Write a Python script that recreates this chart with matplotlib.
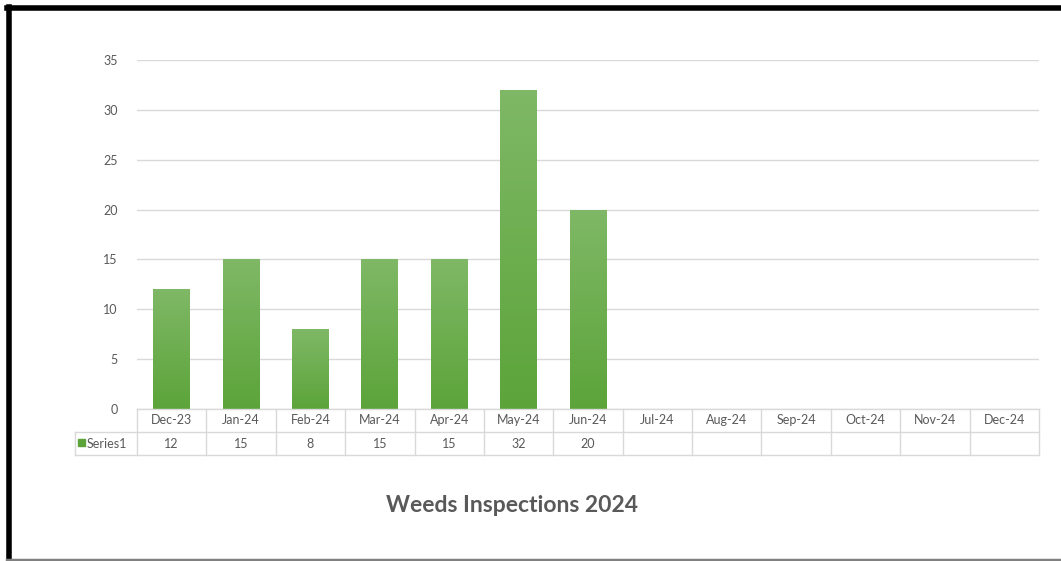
import matplotlib
matplotlib.use("Agg")
import matplotlib.pyplot as plt
import numpy as np
from matplotlib.lines import Line2D
from matplotlib.patches import Rectangle

# Monthly weed inspection counts
months = ["Dec-23", "Jan-24", "Feb-24", "Mar-24", "Apr-24", "May-24", "Jun-24",
          "Jul-24", "Aug-24", "Sep-24", "Oct-24", "Nov-24", "Dec-24"]
inspections = [12, 15, 8, 15, 15, 32, 20, None, None, None, None, None, None]
series_name = "Series1"
title = "Weeds Inspections 2024"
y_ticks = [0, 5, 10, 15, 20, 25, 30, 35]

plt.rcParams["font.family"] = ["Lato", "DejaVu Sans"]
TXT = "#595959"
GRID = "#d9d9d9"
GREEN_TOP = np.array([0x7f, 0xb8, 0x66]) / 255
GREEN_BOT = np.array([0x5c, 0xa4, 0x3a]) / 255

W, H = 1061, 561
fig = plt.figure(figsize=(W / 100, H / 100), dpi=100)

def fx(px):
    return px / W

def fy(py):
    return 1 - py / H

left_px, right_px, top_px, bottom_px = 137, 1039, 60, 409
ax = fig.add_axes([fx(left_px), fy(bottom_px), fx(right_px - left_px),
                   (bottom_px - top_px) / H])

n = len(months)
x = np.arange(n)
vals = [v if v is not None else 0 for v in inspections]
bars = ax.bar(x, vals, width=0.53, color=GREEN_BOT, zorder=3, linewidth=0)

# Vertical light-to-dark gradient inside each bar
grad = np.linspace(0, 1, 256)[:, None]
cmap_img = GREEN_TOP[None, None, :] * (1 - grad[..., None]) + GREEN_BOT[None, None, :] * grad[..., None]
for b, v in zip(bars, inspections):
    if v is None:
        continue
    x0, w, h = b.get_x(), b.get_width(), b.get_height()
    im = ax.imshow(cmap_img, extent=[x0, x0 + w, 0, h], aspect="auto", zorder=4,
                   origin="upper")
    im.set_clip_path(b)

ax.set_xlim(-0.5, n - 0.5)
ax.set_ylim(0, 35)
ax.set_yticks(y_ticks)
ax.set_yticklabels([str(t) for t in y_ticks], color=TXT, fontsize=9)
ax.tick_params(axis="y", length=0, pad=14)
ax.set_xticks([])
ax.grid(axis="y", color=GRID, linewidth=1, zorder=0)
for s in ax.spines.values():
    s.set_visible(False)

# Data table below the plot
row_h = 23
label_left = 75
hdr_top, hdr_bot, row_bot = bottom_px, bottom_px + row_h, bottom_px + 2 * row_h
col_w = (right_px - left_px) / n

def hline(y, x0, x1):
    fig.add_artist(Line2D([fx(x0), fx(x1)], [fy(y), fy(y)], color=GRID, lw=1))

def vline(xp, y0, y1):
    fig.add_artist(Line2D([fx(xp), fx(xp)], [fy(y0), fy(y1)], color=GRID, lw=1))

hline(hdr_top, left_px, right_px)
hline(hdr_bot, label_left, right_px)
hline(row_bot, label_left, right_px)
vline(label_left, hdr_bot, row_bot)
for i in range(n + 1):
    vline(left_px + i * col_w, hdr_top, row_bot)

for i, (m, v) in enumerate(zip(months, inspections)):
    cx = left_px + (i + 0.5) * col_w
    fig.text(fx(cx), fy((hdr_top + hdr_bot) / 2), m, ha="center", va="center",
             fontsize=9, color=TXT)
    if v is not None:
        fig.text(fx(cx), fy((hdr_bot + row_bot) / 2), str(v), ha="center",
                 va="center", fontsize=9, color=TXT)

# Legend key in the row header
fig.add_artist(Rectangle((fx(78), fy(446)), fx(7), 7 / H, color=GREEN_BOT,
                         transform=fig.transFigure))
fig.text(fx(87), fy((hdr_bot + row_bot) / 2), series_name, ha="left", va="center",
         fontsize=9, color=TXT)

fig.text(fx(512), fy(505), title, ha="center", va="center", fontsize=16.5,
         fontweight="bold", color=TXT)

# Outer frame
fig.add_artist(Line2D([fx(9), fx(9)], [fy(7), fy(561)], color="black", lw=4))
fig.add_artist(Line2D([fx(7), fx(1061)], [fy(7.5), fy(7.5)], color="black", lw=4))
fig.add_artist(Line2D([fx(7), fx(1061)], [fy(559.5), fy(559.5)], color="#808080", lw=2.5))

fig.savefig("out.png", dpi=100, facecolor="white")
